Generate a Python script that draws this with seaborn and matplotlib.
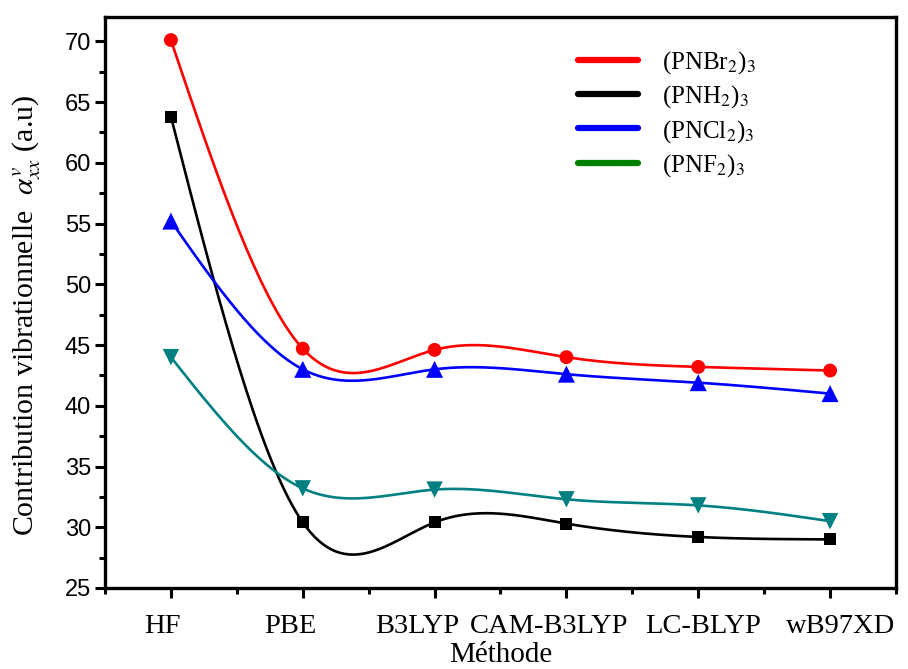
import numpy as np
import pandas as pd
import matplotlib
matplotlib.use("Agg")
import matplotlib.pyplot as plt
from matplotlib.lines import Line2D
from matplotlib.ticker import MultipleLocator
from matplotlib.transforms import ScaledTranslation
import seaborn as sns

# ---- data ----
methods = ["HF", "PBE", "B3LYP", "CAM-B3LYP", "LC-BLYP", "wB97XD"]
pnbr2 = [70.1, 44.7, 44.6, 44.0, 43.2, 42.9]
pnh2 = [63.8, 30.4, 30.4, 30.3, 29.2, 29.0]
pncl2 = [55.2, 43.0, 43.0, 42.6, 41.9, 41.0]
pnf2 = [44.0, 33.2, 33.1, 32.3, 31.8, 30.5]
labels = [r"(PNBr$_2$)$_3$", r"(PNH$_2$)$_3$", r"(PNCl$_2$)$_3$", r"(PNF$_2$)$_3$"]

sns.set_style("ticks")
plt.rcParams["mathtext.fontset"] = "stix"
plt.rcParams["font.family"] = ["Liberation Serif", "DejaVu Sans"]
for k in ["text.color", "axes.labelcolor", "xtick.color", "ytick.color", "axes.edgecolor"]:
    plt.rcParams[k] = "black"


def natural_spline(x, y, n=300):
    x = np.asarray(x, float)
    y = np.asarray(y, float)
    N = len(x)
    h = np.diff(x)
    A = np.zeros((N, N))
    b = np.zeros(N)
    A[0, 0] = A[-1, -1] = 1.0
    for i in range(1, N - 1):
        A[i, i - 1] = h[i - 1]
        A[i, i] = 2 * (h[i - 1] + h[i])
        A[i, i + 1] = h[i]
        b[i] = 6 * ((y[i + 1] - y[i]) / h[i] - (y[i] - y[i - 1]) / h[i - 1])
    M = np.linalg.solve(A, b)
    xs = np.linspace(x[0], x[-1], n)
    k = np.clip(np.searchsorted(x, xs) - 1, 0, N - 2)
    x0, x1 = x[k], x[k + 1]
    hk = x1 - x0
    ys = (M[k] * (x1 - xs) ** 3 / (6 * hk) + M[k + 1] * (xs - x0) ** 3 / (6 * hk)
          + (y[k] / hk - M[k] * hk / 6) * (x1 - xs)
          + (y[k + 1] / hk - M[k + 1] * hk / 6) * (xs - x0))
    return xs, ys


fig = plt.figure(figsize=(9.08, 6.69), dpi=100)
ax = fig.add_axes([105 / 908, 1 - 588 / 669, (896 - 105) / 908, (588 - 17) / 669])

pos = np.arange(len(methods))
series = [
    (pnbr2, "#FF0000", "o", 100),
    (pnh2, "#000000", "s", 75),
    (pncl2, "#0000FF", "^", 150),
    (pnf2, "#008080", "v", 140),
]
for vals, col, mk, s in series:
    xs, ys = natural_spline(pos, vals)
    sns.lineplot(x=xs, y=ys, color=col, lw=1.9, ax=ax, sort=False, zorder=2)
    sns.scatterplot(x=pos, y=vals, color=col, marker=mk, s=s, edgecolor="none",
                    ax=ax, zorder=3, legend=False)

ax.set_xlim(-0.5, 5.5)
ax.set_ylim(25, 72)
ax.set_xticks(pos)
ax.set_xticklabels([])
# category labels, shifted (pixels) as placed in the original figure
label_shift_px = [-9, -12, -17, -17, 5, 11]
base = ax.get_xaxis_transform()
for p, name, dx in zip(pos, methods, label_shift_px):
    ax.text(p, -0.046, name, fontsize=20.5, family="Liberation Serif",
            ha="center", va="top", clip_on=False,
            transform=base + ScaledTranslation(dx / 100, 0, fig.dpi_scale_trans))
ax.xaxis.set_minor_locator(MultipleLocator(0.5))
ax.yaxis.set_major_locator(MultipleLocator(5))
ax.yaxis.set_minor_locator(MultipleLocator(2.5))
for lab in ax.get_yticklabels():
    lab.set_family("Liberation Sans")
    lab.set_fontsize(17)
ax.tick_params(axis="both", which="major", direction="out", length=7, width=2.2)
ax.tick_params(axis="both", which="minor", direction="out", length=4, width=2.2)
ax.tick_params(axis="y", pad=3)
for sp in ax.spines.values():
    sp.set_linewidth(2.4)
    sp.set_visible(True)

ax.set_xlabel("Méthode", fontsize=21, labelpad=0)
ax.xaxis.set_label_coords(0.5, -0.095)
ax.set_ylabel(r"Contribution vibrationnelle  $\alpha^{v}_{xx}$ (a.u)", fontsize=21.5)
ax.yaxis.set_label_coords(-0.078, 0.478)

legend_colors = ["#FF0000", "#000000", "#0000FF", "#008000"]
handles = [Line2D([0], [0], color=c, lw=4.5) for c in legend_colors]
fig.legend(handles, labels, loc="upper left", bbox_to_anchor=(578 / 908, 1 - 49 / 669),
           frameon=False, fontsize=18, handlelength=2.4, handletextpad=0.95,
           labelspacing=0.3, borderpad=0, borderaxespad=0)

fig.savefig("out.png", dpi=100)
